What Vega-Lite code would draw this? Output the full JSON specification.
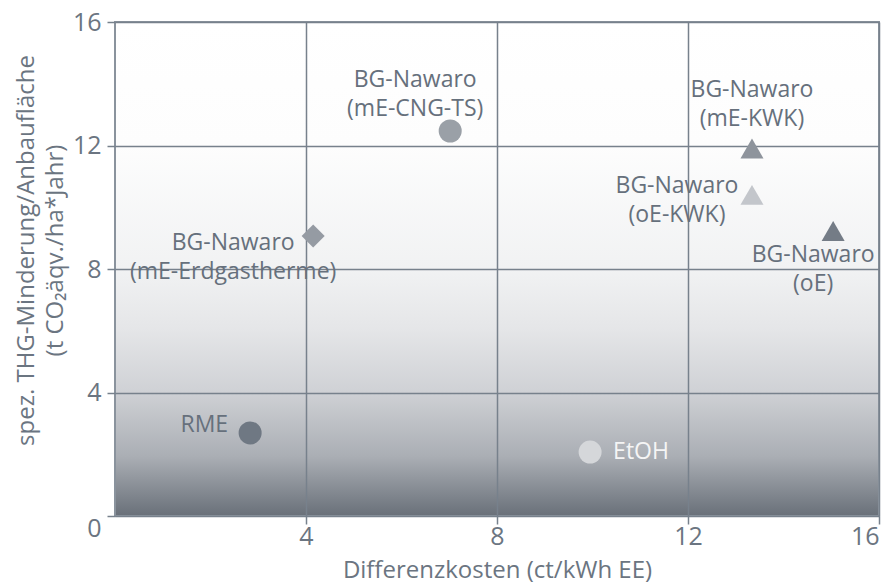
{
  "$schema": "https://vega.github.io/schema/vega-lite/v6.json",
  "width": 764,
  "height": 494,
  "autosize": {"type": "none"},
  "padding": {"left": 115, "top": 22, "right": 7, "bottom": 69},
  "background": "#ffffff",
  "config": {
    "font": "Open Sans",
    "view": {
      "fill": {
        "gradient": "linear", "x1": 0, "y1": 0, "x2": 0, "y2": 1,
        "stops": [
          {"offset": 0, "color": "#ffffff"},
          {"offset": 0.25, "color": "#fdfdfd"},
          {"offset": 0.5, "color": "#f1f2f3"},
          {"offset": 0.62, "color": "#e5e6e8"},
          {"offset": 0.75, "color": "#cfd1d5"},
          {"offset": 0.88, "color": "#aaaeb4"},
          {"offset": 1, "color": "#697079"}
        ]
      },
      "stroke": "#8a939d",
      "strokeWidth": 2
    },
    "axis": {
      "grid": true,
      "gridColor": "#77818c",
      "gridWidth": 1.5,
      "gridOpacity": 1,
      "domain": false,
      "tickColor": "#77818c",
      "tickWidth": 1.5,
      "tickSize": 8,
      "labelFont": "Open Sans",
      "labelFontSize": 25,
      "labelColor": "#6b7581",
      "titleFont": "Open Sans",
      "titleFontSize": 24,
      "titleFontWeight": "normal",
      "titleColor": "#6b7581"
    }
  },
  "data": {
    "values": [
      {"name": "RME", "label": "RME", "kosten": 2.83, "minderung": 2.69},
      {"name": "EtOH", "label": "EtOH", "kosten": 9.95, "minderung": 2.07},
      {"name": "BG-Nawaro (mE-CNG-TS)", "label": "BG-Nawaro\n(mE-CNG-TS)", "kosten": 7.02, "minderung": 12.47},
      {"name": "BG-Nawaro (mE-Erdgastherme)", "label": "BG-Nawaro\n(mE-Erdgastherme)", "kosten": 4.15, "minderung": 9.07},
      {"name": "BG-Nawaro (mE-KWK)", "label": "BG-Nawaro\n(mE-KWK)", "kosten": 13.34, "minderung": 11.9},
      {"name": "BG-Nawaro (oE-KWK)", "label": "BG-Nawaro\n(oE-KWK)", "kosten": 13.34, "minderung": 10.4},
      {"name": "BG-Nawaro (oE)", "label": "BG-Nawaro\n(oE)", "kosten": 15.04, "minderung": 9.23}
    ]
  },
  "encoding": {
    "x": {
      "field": "kosten", "type": "quantitative",
      "scale": {"domain": [0, 16], "nice": false, "zero": false},
      "axis": {"values": [4, 8, 12, 16], "title": "Differenzkosten (ct/kWh EE)", "labelPadding": 0, "titlePadding": 9}
    },
    "y": {
      "field": "minderung", "type": "quantitative",
      "scale": {"domain": [0, 16], "nice": false, "zero": false},
      "axis": {
        "values": [0, 4, 8, 12, 16],
        "title": ["spez. THG-Minderung/Anbaufläche", "(t CO₂äqv./ha*Jahr)"],
        "labelPadding": 6,
        "labelBaseline": {"condition": {"test": "datum.value === 0", "value": "top"}, "value": "middle"},
        "titleX": -89,
        "titleY": 228,
        "titleAngle": -90,
        "titleAlign": "center",
        "titleBaseline": "middle",
        "titleLineHeight": 29
      }
    }
  },
  "layer": [
    {
      "mark": {"type": "point", "filled": true, "opacity": 1, "strokeWidth": 0},
      "encoding": {
        "color": {
          "field": "name", "type": "nominal", "legend": null,
          "scale": {
            "domain": ["RME", "EtOH", "BG-Nawaro (mE-CNG-TS)", "BG-Nawaro (mE-Erdgastherme)", "BG-Nawaro (mE-KWK)", "BG-Nawaro (oE-KWK)", "BG-Nawaro (oE)"],
            "range": ["#6f7883", "#d5d7da", "#9aa0a7", "#959ba3", "#8e949c", "#c3c6cb", "#747c86"]
          }
        },
        "shape": {
          "field": "name", "type": "nominal", "legend": null,
          "scale": {
            "domain": ["RME", "EtOH", "BG-Nawaro (mE-CNG-TS)", "BG-Nawaro (mE-Erdgastherme)", "BG-Nawaro (mE-KWK)", "BG-Nawaro (oE-KWK)", "BG-Nawaro (oE)"],
            "range": ["circle", "circle", "circle", "diamond", "triangle-up", "triangle-up", "triangle-up"]
          }
        },
        "size": {
          "field": "name", "type": "ordinal", "legend": null,
          "scale": {
            "domain": ["RME", "EtOH", "BG-Nawaro (mE-CNG-TS)", "BG-Nawaro (mE-Erdgastherme)", "BG-Nawaro (mE-KWK)", "BG-Nawaro (oE-KWK)", "BG-Nawaro (oE)"],
            "range": [530, 530, 530, 320, 480, 480, 480]
          }
        }
      }
    },
    {
      "transform": [{"filter": "datum.name === 'RME'"}],
      "mark": {"type": "text", "align": "right", "baseline": "middle", "dx": -22, "dy": -8, "fontSize": 23, "color": "#66707c", "lineBreak": "\n", "lineHeight": 29},
      "encoding": {"text": {"field": "label"}}
    },
    {
      "transform": [{"filter": "datum.name === 'EtOH'"}],
      "mark": {"type": "text", "align": "left", "baseline": "middle", "dx": 23, "dy": 0, "fontSize": 23, "color": "#f5f5f5", "lineBreak": "\n", "lineHeight": 29},
      "encoding": {"text": {"field": "label"}}
    },
    {
      "transform": [{"filter": "datum.name === 'BG-Nawaro (mE-CNG-TS)'"}],
      "mark": {"type": "text", "align": "center", "baseline": "middle", "dx": -35, "dy": -51, "fontSize": 23, "color": "#66707c", "lineBreak": "\n", "lineHeight": 29},
      "encoding": {"text": {"field": "label"}}
    },
    {
      "transform": [{"filter": "datum.name === 'BG-Nawaro (mE-Erdgastherme)'"}],
      "mark": {"type": "text", "align": "center", "baseline": "middle", "dx": -80, "dy": 7, "fontSize": 23, "color": "#66707c", "lineBreak": "\n", "lineHeight": 29},
      "encoding": {"text": {"field": "label"}}
    },
    {
      "transform": [{"filter": "datum.name === 'BG-Nawaro (mE-KWK)'"}],
      "mark": {"type": "text", "align": "center", "baseline": "middle", "dx": 0, "dy": -59, "fontSize": 23, "color": "#66707c", "lineBreak": "\n", "lineHeight": 29},
      "encoding": {"text": {"field": "label"}}
    },
    {
      "transform": [{"filter": "datum.name === 'BG-Nawaro (oE-KWK)'"}],
      "mark": {"type": "text", "align": "center", "baseline": "middle", "dx": -75, "dy": -9, "fontSize": 23, "color": "#66707c", "lineBreak": "\n", "lineHeight": 29},
      "encoding": {"text": {"field": "label"}}
    },
    {
      "transform": [{"filter": "datum.name === 'BG-Nawaro (oE)'"}],
      "mark": {"type": "text", "align": "center", "baseline": "middle", "dx": -20, "dy": 24, "fontSize": 23, "color": "#66707c", "lineBreak": "\n", "lineHeight": 29},
      "encoding": {"text": {"field": "label"}}
    }
  ]
}
